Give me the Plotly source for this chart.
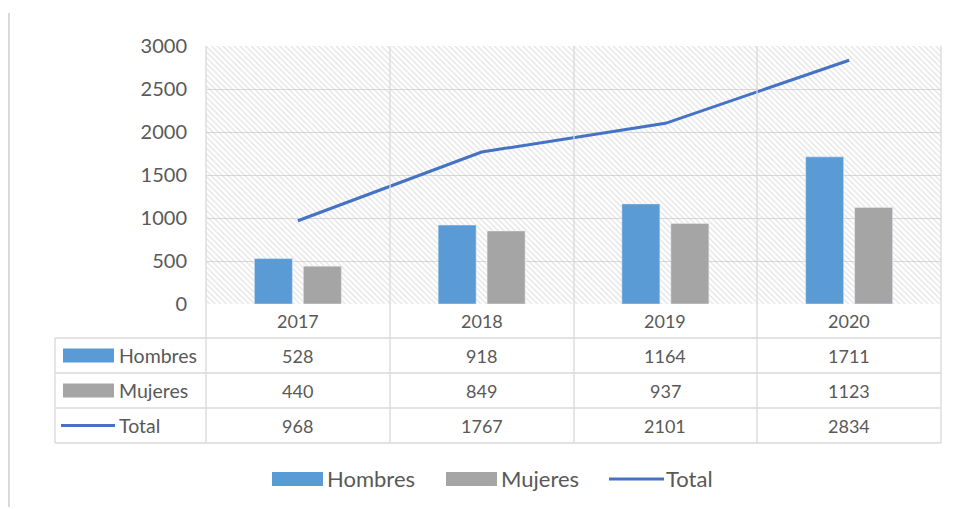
import plotly.graph_objects as go

# ── Data ────────────────────────────────────────────────────────
years   = ["2017", "2018", "2019", "2020"]
hombres = [528, 918, 1164, 1711]
mujeres = [440, 849, 937, 1123]
total   = [968, 1767, 2101, 2834]

y_ticks = [0, 500, 1000, 1500, 2000, 2500, 3000]

# ── Theme ───────────────────────────────────────────────────────
C_HOMBRES = "#5B9BD5"
C_MUJERES = "#A5A5A5"
C_TOTAL   = "#4472C4"
GRID      = "#D9D9D9"
TEXT      = "#595959"
FONT      = "Lato"

W, H = 958, 509
L, R, T, B = 206, 941, 46, 304   # plot area in pixels


def px_x(p):
    return (p - L) / (R - L)


def px_y(p):
    return (B - p) / (B - T)


fig = go.Figure()

# hatched plot background (base axes)
fig.add_trace(go.Bar(
    x=[0.5], y=[y_ticks[-1]], width=[1],
    marker=dict(
        color="rgba(0,0,0,0)",
        line=dict(width=0),
        pattern=dict(shape="\\", fgcolor="#C4C4C4", size=4,
                     solidity=0.3, fillmode="overlay"),
    ),
    hoverinfo="skip", showlegend=False,
    xaxis="x", yaxis="y",
))

# data on overlaying axes
fig.add_trace(go.Bar(x=years, y=hombres, name="Hombres",
                     marker_color=C_HOMBRES, xaxis="x2", yaxis="y2"))
fig.add_trace(go.Bar(x=years, y=mujeres, name="Mujeres",
                     marker_color=C_MUJERES, xaxis="x2", yaxis="y2"))
fig.add_trace(go.Scatter(x=years, y=total, name="Total", mode="lines",
                         line=dict(color=C_TOTAL, width=3),
                         xaxis="x2", yaxis="y2"))

# ── Data table + decorations ───────────────────────────────────
shapes = []


def hline(y, x0, x1):
    shapes.append(dict(type="line", xref="paper", yref="paper",
                       x0=px_x(x0), x1=px_x(x1), y0=px_y(y), y1=px_y(y),
                       line=dict(color=GRID, width=1.3)))


def vline(x, y0, y1, width=1.3):
    shapes.append(dict(type="line", xref="paper", yref="paper",
                       x0=px_x(x), x1=px_x(x), y0=px_y(y0), y1=px_y(y1),
                       line=dict(color=GRID, width=width)))


row_lines = [338, 373, 408, 443]
for y in row_lines:
    hline(y, 55, R)
vline(55, 338, 443)
for x in [L, 390, 574, 757, R]:
    vline(x, T, 443)
# outer frame line on the far left
vline(9, 13, 507, width=2)

annotations = []
# year row (positioned through the category axis)
for i, yr in enumerate(years):
    annotations.append(dict(x=i, xref="x2", y=px_y(321), yref="paper",
                            text=yr, showarrow=False, xanchor="center",
                            yanchor="middle",
                            font=dict(size=18, color=TEXT)))

rows = [("Hombres", hombres, 355.5, "bar", C_HOMBRES),
        ("Mujeres", mujeres, 390.5, "bar", C_MUJERES),
        ("Total", total, 425.5, "line", C_TOTAL)]
for name, vals, yc, kind, col in rows:
    for i, v in enumerate(vals):
        annotations.append(dict(x=i, xref="x2", y=px_y(yc), yref="paper",
                                text=str(v), showarrow=False,
                                xanchor="center", yanchor="middle",
                                font=dict(size=18, color=TEXT)))
    if kind == "bar":
        shapes.append(dict(type="rect", xref="paper", yref="paper",
                           x0=px_x(63), x1=px_x(114),
                           y0=px_y(yc - 7), y1=px_y(yc + 7),
                           fillcolor=col, line=dict(width=0)))
    else:
        shapes.append(dict(type="line", xref="paper", yref="paper",
                           x0=px_x(61), x1=px_x(115),
                           y0=px_y(yc), y1=px_y(yc),
                           line=dict(color=col, width=3)))
    annotations.append(dict(x=px_x(117), xref="paper", y=px_y(yc),
                            yref="paper", text=name, showarrow=False,
                            xanchor="left", yanchor="middle",
                            font=dict(size=19.5, color=TEXT)))

# bottom legend
legend_items = [("Hombres", 272, "bar", C_HOMBRES),
                ("Mujeres", 446, "bar", C_MUJERES),
                ("Total", 609, "line", C_TOTAL)]
ly = 479
for name, x0, kind, col in legend_items:
    if kind == "bar":
        shapes.append(dict(type="rect", xref="paper", yref="paper",
                           x0=px_x(x0), x1=px_x(x0 + 51),
                           y0=px_y(ly - 7), y1=px_y(ly + 7),
                           fillcolor=col, line=dict(width=0)))
        tx = x0 + 53
    else:
        shapes.append(dict(type="line", xref="paper", yref="paper",
                           x0=px_x(x0), x1=px_x(x0 + 55),
                           y0=px_y(ly), y1=px_y(ly),
                           line=dict(color=col, width=3)))
        tx = x0 + 55
    annotations.append(dict(x=px_x(tx), xref="paper", y=px_y(ly),
                            yref="paper", text=name, showarrow=False,
                            xanchor="left", yanchor="middle",
                            font=dict(size=22, color=TEXT)))

fig.update_layout(
    width=W, height=H,
    paper_bgcolor="white", plot_bgcolor="white",
    margin=dict(l=L, r=W - R, t=T, b=H - B, pad=0),
    font=dict(family=FONT, color=TEXT),
    showlegend=False,
    barmode="group", bargap=0.467, bargroupgap=0.224,
    xaxis=dict(range=[0, 1], showgrid=False, zeroline=False,
               showticklabels=False, fixedrange=True),
    yaxis=dict(range=[0, 3000], tickvals=y_ticks, showgrid=True,
               gridcolor=GRID, gridwidth=1.3, zeroline=False,
               showline=False, ticks="", ticklabelstandoff=18,
               tickfont=dict(size=20, color=TEXT)),
    xaxis2=dict(overlaying="x", type="category", range=[-0.5, 3.5],
                visible=False),
    yaxis2=dict(overlaying="y", range=[0, 3000], visible=False),
    shapes=shapes,
    annotations=annotations,
)

fig.write_html("out.html", config={"displayModeBar": False},
               post_script="document.body.style.margin='0';")
